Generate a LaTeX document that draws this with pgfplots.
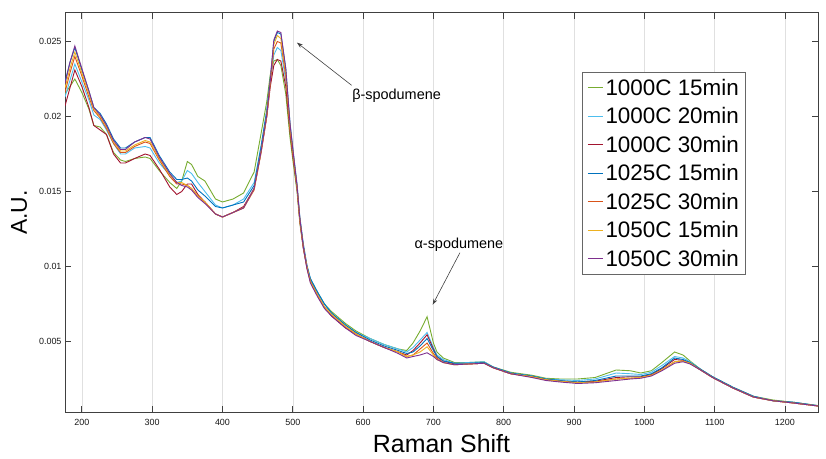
\documentclass[border=0pt]{standalone}
\usepackage{pgfplots}
\pgfplotsset{compat=1.18}
\usepackage{pgfplotstable}
\usepackage{fontspec}
\setmainfont{Liberation Sans}
\usetikzlibrary{arrows.meta}

\definecolor{cg}{rgb}{0.466,0.674,0.188}
\definecolor{clb}{rgb}{0.301,0.745,0.933}
\definecolor{cdr}{rgb}{0.635,0.078,0.184}
\definecolor{cb}{rgb}{0,0.447,0.741}
\definecolor{co}{rgb}{0.85,0.325,0.098}
\definecolor{cy}{rgb}{0.929,0.694,0.125}
\definecolor{cp}{rgb}{0.494,0.184,0.556}

\pgfplotstableread{
x g lb dr b o yl p
176 0.0215 0.0213 0.0207 0.0223 0.0216 0.0219 0.0222
183 0.0220 0.0224 0.0219 0.0236 0.0229 0.0232 0.0236
190 0.0225 0.0235 0.0231 0.0246 0.0240 0.0243 0.0247
200 0.0216 0.0223 0.0220 0.0231 0.0227 0.0229 0.0232
210 0.0205 0.0211 0.0206 0.0217 0.0213 0.0215 0.0217
217 0.0194 0.0201 0.0194 0.0206 0.0204 0.0205 0.0206
226 0.0193 0.0198 0.0191 0.0202 0.0199 0.0200 0.0201
235 0.0188 0.0191 0.0188 0.0195 0.0192 0.0193 0.0194
245 0.0176 0.0182 0.0175 0.0185 0.0182 0.0183 0.0184
255 0.0171 0.0175 0.0169 0.0179 0.0176 0.0177 0.0178
262 0.0170 0.0175 0.0169 0.0179 0.0176 0.0177 0.0178
275 0.0172 0.0179 0.0172 0.0183 0.0180 0.0181 0.0183
290 0.0173 0.0180 0.0175 0.0186 0.0183 0.0184 0.0186
297 0.0172 0.0179 0.0174 0.0186 0.0182 0.0183 0.0185
310 0.0164 0.0169 0.0165 0.0174 0.0171 0.0172 0.0173
325 0.0156 0.0161 0.0153 0.0163 0.0160 0.0161 0.0162
335 0.0152 0.0156 0.0148 0.0158 0.0155 0.0156 0.0156
342 0.0157 0.0157 0.0150 0.0158 0.0155 0.0156 0.0154
350 0.0170 0.0164 0.0155 0.0159 0.0154 0.0154 0.0153
356 0.0168 0.0162 0.0155 0.0157 0.0152 0.0152 0.0151
365 0.0160 0.0156 0.0148 0.0151 0.0147 0.0147 0.0146
375 0.0157 0.0150 0.0143 0.0147 0.0143 0.0143 0.0142
390 0.0145 0.0141 0.0135 0.0140 0.0135 0.0135 0.0135
400 0.0143 0.0139 0.0133 0.0139 0.0133 0.0133 0.0133
415 0.0145 0.0141 0.0136 0.0141 0.0136 0.0136 0.0136
430 0.0149 0.0145 0.0140 0.0143 0.0139 0.0139 0.0139
445 0.0163 0.0156 0.0152 0.0154 0.0151 0.0152 0.0152
455 0.0189 0.0181 0.0177 0.0180 0.0176 0.0177 0.0177
463 0.0210 0.0204 0.0200 0.0204 0.0200 0.0201 0.0201
468 0.0228 0.0223 0.0220 0.0226 0.0222 0.0224 0.0224
473 0.0237 0.0241 0.0234 0.0250 0.0245 0.0248 0.0251
478 0.0238 0.0246 0.0238 0.0256 0.0250 0.0254 0.0257
483 0.0234 0.0244 0.0237 0.0255 0.0249 0.0252 0.0256
490 0.0215 0.0224 0.0220 0.0232 0.0227 0.0229 0.0232
496 0.0186 0.0192 0.0190 0.0196 0.0192 0.0193 0.0195
500 0.0171 0.0176 0.0174 0.0179 0.0176 0.0177 0.0178
506 0.0150 0.0153 0.0152 0.0155 0.0153 0.0153 0.0154
510 0.0129 0.0132 0.0130 0.0133 0.0131 0.0131 0.0132
515 0.0112 0.0114 0.0112 0.0115 0.0113 0.0113 0.0113
520 0.0100 0.0101 0.0099 0.0101 0.0100 0.0100 0.0099
525 0.0091 0.0092 0.0090 0.0092 0.0090 0.0090 0.0089
535 0.0083 0.0083 0.0081 0.0083 0.0081 0.0081 0.0080
545 0.0075 0.0075 0.0073 0.0075 0.0073 0.0073 0.0072
555 0.0070 0.0069 0.0067 0.0069 0.0068 0.0068 0.0067
565 0.0066 0.0065 0.0063 0.0065 0.0064 0.0064 0.0063
575 0.0062 0.0061 0.0059 0.0061 0.0060 0.0060 0.0059
590 0.0057 0.0056 0.0055 0.0056 0.0055 0.0055 0.0054
610 0.0052 0.0052 0.0050 0.0051 0.0050 0.0050 0.0050
630 0.0048 0.0048 0.0046 0.0047 0.0046 0.0046 0.0046
650 0.0045 0.0045 0.0043 0.0044 0.0043 0.0043 0.0042
662 0.0044 0.0043 0.0041 0.0042 0.0040 0.0040 0.0039
671 0.0049 0.0046 0.0044 0.0043 0.0041 0.0041 0.0040
681 0.0057 0.0051 0.0049 0.0047 0.0045 0.0043 0.0041
691 0.00665 0.0056 0.00545 0.0052 0.0049 0.00465 0.00425
700 0.0049 0.0046 0.0045 0.0044 0.0042 0.0041 0.0040
705 0.0043 0.0041 0.0040 0.0040 0.0039 0.0038 0.0038
714 0.0039 0.0038 0.0037 0.0037 0.0036 0.0036 0.0036
730 0.0036 0.00355 0.0035 0.00355 0.00345 0.00345 0.00345
750 0.0036 0.0036 0.0035 0.00355 0.0035 0.0035 0.0035
772 0.00365 0.00365 0.00355 0.0036 0.00355 0.00355 0.00355
785 0.0033 0.0033 0.00325 0.0033 0.00325 0.00325 0.00325
810 0.00295 0.0029 0.00285 0.0029 0.00285 0.00285 0.00285
840 0.00275 0.0027 0.00265 0.0027 0.00265 0.00265 0.0026
860 0.00255 0.0025 0.00245 0.0025 0.00245 0.00245 0.0024
880 0.0025 0.00245 0.00235 0.0024 0.00235 0.00235 0.0023
905 0.0025 0.0024 0.0023 0.0023 0.00225 0.00225 0.0022
930 0.0026 0.0025 0.00235 0.0024 0.0023 0.0023 0.00225
960 0.0031 0.0029 0.0026 0.0027 0.0025 0.0025 0.0024
980 0.00305 0.00285 0.00265 0.0027 0.00255 0.00255 0.0025
995 0.0029 0.0028 0.00265 0.0027 0.0026 0.0026 0.00255
1010 0.00305 0.00295 0.0028 0.00285 0.00275 0.00275 0.0027
1025 0.0036 0.0034 0.0032 0.00325 0.0031 0.0031 0.00305
1043 0.0043 0.0040 0.0038 0.0039 0.00365 0.00365 0.00355
1055 0.0041 0.0039 0.00375 0.0038 0.0037 0.0037 0.00365
1065 0.0037 0.00365 0.00355 0.0036 0.00355 0.00355 0.0035
1080 0.00315 0.00315 0.0031 0.00315 0.0031 0.0031 0.0031
1097 0.00265 0.00265 0.0026 0.00265 0.0026 0.0026 0.0026
1126 0.00195 0.00195 0.0019 0.00195 0.0019 0.0019 0.0019
1155 0.00135 0.00135 0.0013 0.00135 0.0013 0.0013 0.0013
1183 0.0011 0.00105 0.00105 0.00105 0.00105 0.00105 0.00105
1212 0.00095 0.00095 0.0009 0.00095 0.0009 0.0009 0.0009
1247 0.00073 0.00072 0.0007 0.00072 0.0007 0.0007 0.0007
}\datatable

\begin{document}
\begin{tikzpicture}
\begin{axis}[
  at={(0,0)}, anchor=south west,
  width=753bp, height=399bp, scale only axis,
  xmin=176, xmax=1247, ymin=0.0003, ymax=0.0269,
  xtick={200,300,400,500,600,700,800,900,1000,1100,1200},
  xticklabels={200,300,400,500,600,700,800,900,1000,1100,1200},
  ytick={0.005,0.01,0.015,0.02,0.025},
  yticklabels={0.005,0.01,0.015,0.02,0.025},
  scaled y ticks=false,
  tick align=inside, tick pos=both,
  major tick length=6bp,
  xmajorgrids, ymajorgrids=false,
  grid style={black!12, line width=0.6bp},
  axis line style={black!75, line width=1bp},
  tick style={black!75, line width=0.8bp},
  ticklabel style={font=\fontsize{9}{10}\selectfont, text=black!90},
  xticklabel style={yshift=-4bp},
  xlabel={Raman Shift}, ylabel={A.U.},
  xlabel style={at={(axis description cs:0.5,-0.1003)}, anchor=base, font=\fontsize{25}{29}\selectfont},
  ylabel style={at={(axis description cs:-0.0505,0.5)}, anchor=base, font=\fontsize{23}{27}\selectfont},
  every axis plot/.append style={line width=0.9bp},
  legend style={at={(0.6866,0.8521)}, anchor=north west, draw=black!60, line width=0.8bp,
    inner xsep=5bp, inner ysep=1bp, font=\fontsize{22.5}{26}\selectfont, cells={anchor=west},
    nodes={inner ysep=5.4bp, inner xsep=2bp}},
  legend image code/.code={\draw[#1, line width=1.1bp] (0bp,0bp) -- (15bp,0bp);},
]
\addplot[cg, no marks] table[x=x, y=g] {\datatable};
\addlegendentry{1000C 15min}
\addplot[clb, no marks] table[x=x, y=lb] {\datatable};
\addlegendentry{1000C 20min}
\addplot[cdr, no marks] table[x=x, y=dr] {\datatable};
\addlegendentry{1000C 30min}
\addplot[cb, no marks] table[x=x, y=b] {\datatable};
\addlegendentry{1025C 15min}
\addplot[co, no marks] table[x=x, y=o] {\datatable};
\addlegendentry{1025C 30min}
\addplot[cy, no marks] table[x=x, y=yl] {\datatable};
\addlegendentry{1050C 15min}
\addplot[cp, no marks] table[x=x, y=p] {\datatable};
\addlegendentry{1050C 30min}

\draw[-{Stealth[length=6bp,width=4bp]}, black!75, line width=0.6bp]
  (axis cs:583.6,0.02208) -- (axis cs:505.8,0.02493);
\node[font=\fontsize{14.5}{16}\selectfont] at (axis cs:647.6,0.02135) {β-spodumene};
\draw[-{Stealth[length=6bp,width=4bp]}, black!75, line width=0.6bp]
  (axis cs:737.7,0.01092) -- (axis cs:698.9,0.00745);
\node[font=\fontsize{14.5}{16}\selectfont] at (axis cs:736.3,0.01146) {α-spodumene};
\end{axis}
\pgfresetboundingbox
\path[use as bounding box] (-65bp,-47bp) rectangle (761bp,412bp);
\end{tikzpicture}
\end{document}
